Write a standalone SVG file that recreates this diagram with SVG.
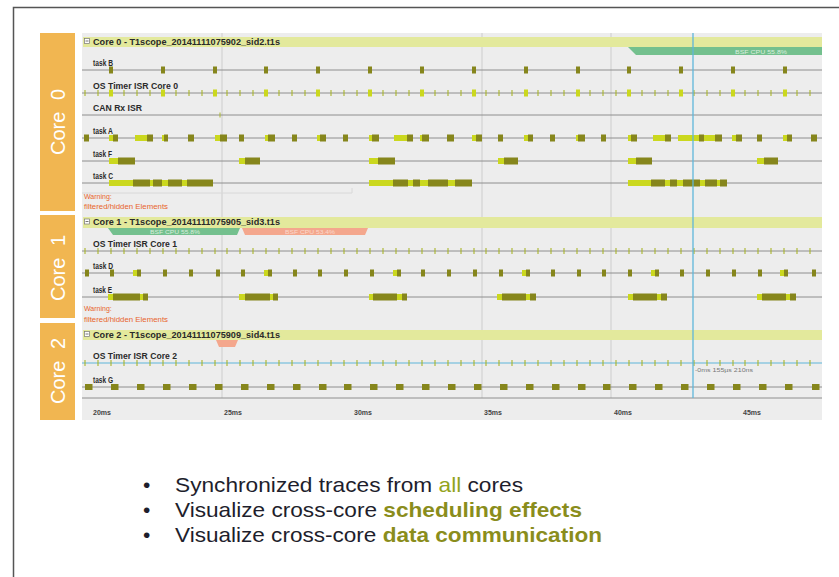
<svg xmlns="http://www.w3.org/2000/svg" width="839" height="577" viewBox="0 0 839 577">
<style>
.d{fill:#86861c}
.b{fill:#cbd81e}
.ln{stroke:#8e8e8e;stroke-width:1;fill:none}
.tk{stroke:#a9b52a;stroke-width:1.1;fill:none}
.lbl{font-family:"Liberation Sans",Arial,sans-serif;font-size:9px;font-weight:bold;fill:#2a2a2a}
.hdr{font-family:"Liberation Sans",Arial,sans-serif;font-size:8.5px;font-weight:bold;fill:#2a2a2a}
.warn{font-family:"Liberation Sans",Arial,sans-serif;font-size:7px;fill:#e8642c}
.tm{font-family:"Liberation Sans",Arial,sans-serif;font-size:7px;font-weight:bold;fill:#444}
.core{font-family:"Liberation Sans",Arial,sans-serif;font-size:20px;fill:#ffffff;word-spacing:6px}
.bar{fill:#e3e99c}
.bul{font-family:"Liberation Sans",Arial,sans-serif;font-size:21px;fill:#1e1e2c}
</style>
<defs>
<path id="ticks" d="M85 0v6M98 0v6M111 0v6M124 0v6M137 0v6M150 0v6M163 0v6M176 0v6M189 0v6M202 0v6M215 0v6M227 0v6M240 0v6M253 0v6M266 0v6M279 0v6M292 0v6M305 0v6M318 0v6M331 0v6M344 0v6M357 0v6M370 0v6M383 0v6M396 0v6M409 0v6M422 0v6M435 0v6M448 0v6M461 0v6M474 0v6M486 0v6M499 0v6M512 0v6M525 0v6M538 0v6M551 0v6M564 0v6M577 0v6M590 0v6M603 0v6M616 0v6M629 0v6M642 0v6M655 0v6M668 0v6M681 0v6M694 0v6M707 0v6M720 0v6M733 0v6M745 0v6M758 0v6M771 0v6M784 0v6M797 0v6M810 0v6"/>
</defs>
<rect width="839" height="577" fill="#ffffff"/>
<path d="M13.5 577V7.5H839" stroke="#555" stroke-width="1.5" fill="none"/>

<g id="core-labels">
<rect x="40" y="33" width="35" height="178" fill="#f1b651"/>
<rect x="40" y="215" width="35" height="103" fill="#f1b651"/>
<rect x="40" y="323" width="35" height="97" fill="#f1b651"/>
<text class="core" transform="translate(58,122) rotate(-90)" text-anchor="middle" y="7">Core 0</text>
<text class="core" transform="translate(58,268) rotate(-90)" text-anchor="middle" y="7">Core 1</text>
<text class="core" transform="translate(58,371) rotate(-90)" text-anchor="middle" y="7">Core 2</text>
</g>

<g id="panel">
<rect x="82" y="33" width="740" height="387" fill="#ededed"/>
<path d="M222 33V398M482 33V398M611 33V398" stroke="#cdcdcd" stroke-width="1"/>
<path d="M82 398H822" class="ln"/>
<path d="M82 193H352V188" stroke="#d8d8d8" fill="none"/>
<text class="tm" x="93" y="415">20ms</text>
<text class="tm" x="224" y="415">25ms</text>
<text class="tm" x="354" y="415">30ms</text>
<text class="tm" x="484" y="415">35ms</text>
<text class="tm" x="614" y="415">40ms</text>
<text class="tm" x="743" y="415">45ms</text>
</g>

<g id="core0">
<rect class="bar" x="83" y="37" width="739" height="10"/>
<rect x="84.5" y="38.5" width="5" height="5" fill="#fff" stroke="#777" stroke-width="0.7"/>
<path d="M85.5 41H88.5" stroke="#555" stroke-width="0.8"/>
<text class="hdr" x="93" y="45" textLength="187" lengthAdjust="spacingAndGlyphs">Core 0 - T1scope_20141111075902_sid2.t1s</text>
<path d="M628 47H822V55H636Z" fill="#74c08e"/>
<text x="735" y="53.5" font-family="Liberation Sans,Arial,sans-serif" font-size="5.5" fill="#d8eedd" textLength="52" lengthAdjust="spacingAndGlyphs">BSF CPU 55.8%</text>

<g id="taskB">
<text class="lbl" x="93" y="66" textLength="20" lengthAdjust="spacingAndGlyphs">task B</text>
<path class="ln" d="M82 70H822"/>
<g class="d"><rect x="109" y="66.5" width="4" height="7"/><rect x="161" y="66.5" width="4" height="7"/><rect x="213" y="66.5" width="4" height="7"/><rect x="264" y="66.5" width="4" height="7"/><rect x="316" y="66.5" width="4" height="7"/><rect x="368" y="66.5" width="4" height="7"/><rect x="420" y="66.5" width="4" height="7"/><rect x="472" y="66.5" width="4" height="7"/><rect x="524" y="66.5" width="4" height="7"/><rect x="576" y="66.5" width="4" height="7"/><rect x="627" y="66.5" width="4" height="7"/><rect x="679" y="66.5" width="4" height="7"/><rect x="731" y="66.5" width="4" height="7"/><rect x="783" y="66.5" width="4" height="7"/></g>
</g>

<g id="osTimer0">
<text class="lbl" x="93" y="89" textLength="85" lengthAdjust="spacingAndGlyphs">OS Timer ISR Core 0</text>
<path class="ln" d="M82 93H822"/>
<use href="#ticks" class="tk" transform="translate(0,90)"/>
<g class="b"><rect x="109" y="89.5" width="4" height="7"/><rect x="161" y="89.5" width="4" height="7"/><rect x="213" y="89.5" width="4" height="7"/><rect x="264" y="89.5" width="4" height="7"/><rect x="316" y="89.5" width="4" height="7"/><rect x="368" y="89.5" width="4" height="7"/><rect x="420" y="89.5" width="4" height="7"/><rect x="472" y="89.5" width="4" height="7"/><rect x="524" y="89.5" width="4" height="7"/><rect x="576" y="89.5" width="4" height="7"/><rect x="627" y="89.5" width="4" height="7"/><rect x="679" y="89.5" width="4" height="7"/><rect x="731" y="89.5" width="4" height="7"/><rect x="783" y="89.5" width="4" height="7"/></g>
</g>

<g id="canRx">
<text class="lbl" x="93" y="111" textLength="49" lengthAdjust="spacingAndGlyphs">CAN Rx ISR</text>
<path class="ln" d="M82 115H822"/>
<path d="M220 112.5v5" stroke="#aab52c"/>
</g>

<g id="taskA">
<text class="lbl" x="93" y="134" textLength="20" lengthAdjust="spacingAndGlyphs">task A</text>
<path class="ln" d="M82 138H822"/>
<g class="b"><rect x="109" y="135" width="4" height="6"/><rect x="135" y="135" width="12" height="6"/><rect x="162" y="135" width="2" height="6"/><rect x="215" y="135" width="5" height="6"/><rect x="265" y="135" width="3" height="6"/><rect x="317" y="135" width="3" height="6"/><rect x="369" y="135" width="3" height="6"/><rect x="394" y="135" width="13" height="6"/><rect x="420" y="135" width="2" height="6"/><rect x="472" y="135" width="4" height="6"/><rect x="524" y="135" width="4" height="6"/><rect x="576" y="135" width="2" height="6"/><rect x="628" y="135" width="3" height="6"/><rect x="653" y="135" width="12" height="6"/><rect x="678" y="135" width="21" height="6"/><rect x="704" y="135" width="11" height="6"/><rect x="732" y="135" width="4" height="6"/><rect x="783" y="135" width="4" height="6"/></g>
<g class="d"><rect x="84" y="134.5" width="5" height="7"/><rect x="113" y="134.5" width="5" height="7"/><rect x="147" y="134.5" width="6" height="7"/><rect x="164" y="134.5" width="4" height="7"/><rect x="188" y="134.5" width="6" height="7"/><rect x="220" y="134.5" width="7" height="7"/><rect x="239" y="134.5" width="5" height="7"/><rect x="268" y="134.5" width="7" height="7"/><rect x="292" y="134.5" width="5" height="7"/><rect x="320" y="134.5" width="6" height="7"/><rect x="343" y="134.5" width="5" height="7"/><rect x="372" y="134.5" width="7" height="7"/><rect x="407" y="134.5" width="6" height="7"/><rect x="422" y="134.5" width="7" height="7"/><rect x="447" y="134.5" width="7" height="7"/><rect x="476" y="134.5" width="6" height="7"/><rect x="498" y="134.5" width="5" height="7"/><rect x="528" y="134.5" width="5" height="7"/><rect x="550" y="134.5" width="5" height="7"/><rect x="578" y="134.5" width="7" height="7"/><rect x="601" y="134.5" width="5" height="7"/><rect x="631" y="134.5" width="6" height="7"/><rect x="665" y="134.5" width="6" height="7"/><rect x="699" y="134.5" width="5" height="7"/><rect x="715" y="134.5" width="7" height="7"/><rect x="736" y="134.5" width="6" height="7"/><rect x="757" y="134.5" width="5" height="7"/><rect x="787" y="134.5" width="5" height="7"/><rect x="811" y="134.5" width="6" height="7"/></g>
</g>

<g id="taskF">
<text class="lbl" x="93" y="157" textLength="19" lengthAdjust="spacingAndGlyphs">task F</text>
<path class="ln" d="M82 161H822"/>
<g class="b"><rect x="109" y="158" width="9" height="6"/><rect x="239" y="158" width="6" height="6"/><rect x="369" y="158" width="9" height="6"/><rect x="498" y="158" width="6" height="6"/><rect x="628" y="158" width="8" height="6"/><rect x="757" y="158" width="7" height="6"/></g>
<g class="d"><rect x="118" y="157.5" width="17" height="7"/><rect x="245" y="157.5" width="15" height="7"/><rect x="378" y="157.5" width="17" height="7"/><rect x="504" y="157.5" width="14" height="7"/><rect x="636" y="157.5" width="16" height="7"/><rect x="764" y="157.5" width="14" height="7"/></g>
</g>

<g id="taskC">
<text class="lbl" x="93" y="179" textLength="20" lengthAdjust="spacingAndGlyphs">task C</text>
<path class="ln" d="M82 183H822"/>
<g class="b"><rect x="109" y="180" width="24" height="6"/><rect x="150" y="180" width="3" height="6"/><rect x="162" y="180" width="6" height="6"/><rect x="182" y="180" width="5" height="6"/><rect x="369" y="180" width="24" height="6"/><rect x="408" y="180" width="5" height="6"/><rect x="420" y="180" width="8" height="6"/><rect x="448" y="180" width="7" height="6"/><rect x="628" y="180" width="23" height="6"/><rect x="665" y="180" width="5" height="6"/><rect x="677" y="180" width="6" height="6"/><rect x="700" y="180" width="5" height="6"/><rect x="717" y="180" width="3" height="6"/></g>
<g class="d"><rect x="133" y="179.5" width="17" height="7"/><rect x="153" y="179.5" width="9" height="7"/><rect x="168" y="179.5" width="14" height="7"/><rect x="187" y="179.5" width="26" height="7"/><rect x="393" y="179.5" width="15" height="7"/><rect x="413" y="179.5" width="7" height="7"/><rect x="428" y="179.5" width="20" height="7"/><rect x="455" y="179.5" width="17" height="7"/><rect x="651" y="179.5" width="14" height="7"/><rect x="670" y="179.5" width="7" height="7"/><rect x="683" y="179.5" width="17" height="7"/><rect x="705" y="179.5" width="12" height="7"/><rect x="720" y="179.5" width="7" height="7"/></g>
</g>
<text class="warn" x="84" y="199">Warning:</text>
<text class="warn" x="84" y="209" textLength="84" lengthAdjust="spacingAndGlyphs">filtered/hidden Elements</text>
</g>

<g id="core1">
<rect class="bar" x="83" y="217" width="739" height="11"/>
<rect x="84.5" y="219" width="5" height="5" fill="#fff" stroke="#777" stroke-width="0.7"/>
<path d="M85.5 221.5H88.5" stroke="#555" stroke-width="0.8"/>
<text class="hdr" x="93" y="225" textLength="187" lengthAdjust="spacingAndGlyphs">Core 1 - T1scope_20141111075905_sid3.t1s</text>
<path d="M108 228H240L237 235H113Z" fill="#74c08e"/>
<path d="M242 228H368L365 235H245Z" fill="#f4a78d"/>
<text x="150" y="233.5" font-family="Liberation Sans,Arial,sans-serif" font-size="5.5" fill="#d8eedd" textLength="50" lengthAdjust="spacingAndGlyphs">BSF CPU 55.8%</text>
<text x="285" y="233.5" font-family="Liberation Sans,Arial,sans-serif" font-size="5.5" fill="#fbd9cc" textLength="50" lengthAdjust="spacingAndGlyphs">BSF CPU 53.4%</text>

<g id="osTimer1">
<text class="lbl" x="93" y="247" textLength="84" lengthAdjust="spacingAndGlyphs">OS Timer ISR Core 1</text>
<path class="ln" d="M82 251H822"/>
<use href="#ticks" class="tk" transform="translate(0,248)"/>
</g>

<g id="taskD">
<text class="lbl" x="93" y="269" textLength="20" lengthAdjust="spacingAndGlyphs">task D</text>
<path class="ln" d="M82 273H822"/>
<g class="b"><rect x="133" y="270" width="4" height="6"/><rect x="264" y="270" width="4" height="6"/><rect x="393" y="270" width="4" height="6"/><rect x="522" y="270" width="4" height="6"/><rect x="651" y="270" width="4" height="6"/><rect x="780" y="270" width="4" height="6"/></g>
<g class="d"><rect x="85" y="269.5" width="4" height="7"/><rect x="110" y="269.5" width="4" height="7"/><rect x="137" y="269.5" width="4" height="7"/><rect x="163" y="269.5" width="4" height="7"/><rect x="189" y="269.5" width="4" height="7"/><rect x="216" y="269.5" width="4" height="7"/><rect x="241" y="269.5" width="4" height="7"/><rect x="268" y="269.5" width="4" height="7"/><rect x="293" y="269.5" width="4" height="7"/><rect x="318" y="269.5" width="4" height="7"/><rect x="344" y="269.5" width="4" height="7"/><rect x="370" y="269.5" width="4" height="7"/><rect x="397" y="269.5" width="4" height="7"/><rect x="421" y="269.5" width="4" height="7"/><rect x="447" y="269.5" width="4" height="7"/><rect x="473" y="269.5" width="4" height="7"/><rect x="499" y="269.5" width="4" height="7"/><rect x="526" y="269.5" width="4" height="7"/><rect x="551" y="269.5" width="4" height="7"/><rect x="577" y="269.5" width="4" height="7"/><rect x="602" y="269.5" width="4" height="7"/><rect x="628" y="269.5" width="4" height="7"/><rect x="655" y="269.5" width="4" height="7"/><rect x="680" y="269.5" width="4" height="7"/><rect x="706" y="269.5" width="4" height="7"/><rect x="732" y="269.5" width="4" height="7"/><rect x="758" y="269.5" width="4" height="7"/><rect x="784" y="269.5" width="4" height="7"/><rect x="812" y="269.5" width="4" height="7"/></g>
</g>

<g id="taskE">
<text class="lbl" x="93" y="293" textLength="19" lengthAdjust="spacingAndGlyphs">task E</text>
<path class="ln" d="M82 297H822"/>
<g class="b"><rect x="108" y="294" width="5" height="6"/><rect x="140" y="294" width="3" height="6"/><rect x="239" y="294" width="6" height="6"/><rect x="270" y="294" width="3" height="6"/><rect x="369" y="294" width="4" height="6"/><rect x="397" y="294" width="5" height="6"/><rect x="497" y="294" width="5" height="6"/><rect x="526" y="294" width="4" height="6"/><rect x="628" y="294" width="5" height="6"/><rect x="657" y="294" width="4" height="6"/><rect x="757" y="294" width="5" height="6"/><rect x="786" y="294" width="4" height="6"/></g>
<g class="d"><rect x="113" y="293.5" width="27" height="7"/><rect x="143" y="293.5" width="5" height="7"/><rect x="245" y="293.5" width="25" height="7"/><rect x="273" y="293.5" width="5" height="7"/><rect x="373" y="293.5" width="24" height="7"/><rect x="402" y="293.5" width="5" height="7"/><rect x="502" y="293.5" width="24" height="7"/><rect x="530" y="293.5" width="6" height="7"/><rect x="633" y="293.5" width="24" height="7"/><rect x="661" y="293.5" width="6" height="7"/><rect x="762" y="293.5" width="24" height="7"/><rect x="790" y="293.5" width="6" height="7"/></g>
</g>
<text class="warn" x="84" y="311">Warning:</text>
<text class="warn" x="84" y="322" textLength="84" lengthAdjust="spacingAndGlyphs">filtered/hidden Elements</text>
</g>

<g id="core2">
<rect class="bar" x="83" y="330" width="739" height="10"/>
<rect x="84.5" y="331.5" width="5" height="5" fill="#fff" stroke="#777" stroke-width="0.7"/>
<path d="M85.5 334H88.5" stroke="#555" stroke-width="0.8"/>
<text class="hdr" x="93" y="338" textLength="187" lengthAdjust="spacingAndGlyphs">Core 2 - T1scope_20141111075909_sid4.t1s</text>
<path d="M216 340H238L235 347H219Z" fill="#f4a78d"/>

<g id="osTimer2">
<text class="lbl" x="93" y="359" textLength="84" lengthAdjust="spacingAndGlyphs">OS Timer ISR Core 2</text>
<path d="M82 363H822" stroke="#5fb6da" stroke-width="1.2"/>
<use href="#ticks" class="tk" transform="translate(0,360)"/>
<text x="695" y="372" font-family="Liberation Sans,Arial,sans-serif" font-size="5.5" fill="#777" textLength="58" lengthAdjust="spacingAndGlyphs">-0ms 155µs 210ns</text>
</g>

<g id="taskG">
<text class="lbl" x="93" y="383" textLength="20" lengthAdjust="spacingAndGlyphs">task G</text>
<path class="ln" d="M82 387H822"/>
<g class="d"><rect x="85" y="384" width="7.5" height="6"/><rect x="111" y="384" width="7.5" height="6"/><rect x="137" y="384" width="7.5" height="6"/><rect x="163" y="384" width="7.5" height="6"/><rect x="189" y="384" width="7.5" height="6"/><rect x="215" y="384" width="7.5" height="6"/><rect x="241" y="384" width="7.5" height="6"/><rect x="267" y="384" width="7.5" height="6"/><rect x="293" y="384" width="7.5" height="6"/><rect x="319" y="384" width="7.5" height="6"/><rect x="344" y="384" width="7.5" height="6"/><rect x="370" y="384" width="7.5" height="6"/><rect x="396" y="384" width="7.5" height="6"/><rect x="422" y="384" width="7.5" height="6"/><rect x="448" y="384" width="7.5" height="6"/><rect x="474" y="384" width="7.5" height="6"/><rect x="500" y="384" width="7.5" height="6"/><rect x="526" y="384" width="7.5" height="6"/><rect x="552" y="384" width="7.5" height="6"/><rect x="578" y="384" width="7.5" height="6"/><rect x="603" y="384" width="7.5" height="6"/><rect x="629" y="384" width="7.5" height="6"/><rect x="655" y="384" width="7.5" height="6"/><rect x="681" y="384" width="7.5" height="6"/><rect x="707" y="384" width="7.5" height="6"/><rect x="733" y="384" width="7.5" height="6"/><rect x="759" y="384" width="7.5" height="6"/><rect x="785" y="384" width="7.5" height="6"/><rect x="812" y="384" width="7.5" height="6"/></g>
</g>
</g>

<g id="connectors">
<path d="M693 33V398" stroke="#5fb6da" stroke-width="1.3"/>
</g>

<g id="bullets">
<text class="bul" x="143" y="492">•</text>
<text class="bul" x="143" y="517">•</text>
<text class="bul" x="143" y="542">•</text>
<text class="bul" x="175" y="492" textLength="348" lengthAdjust="spacingAndGlyphs">Synchronized traces from <tspan fill="#93a31c">all</tspan> cores</text>
<text class="bul" x="175" y="517" textLength="407" lengthAdjust="spacingAndGlyphs">Visualize cross-core <tspan fill="#8a8d1c" font-weight="bold">scheduling effects</tspan></text>
<text class="bul" x="175" y="542" textLength="427" lengthAdjust="spacingAndGlyphs">Visualize cross-core <tspan fill="#8a8d1c" font-weight="bold">data communication</tspan></text>
</g>
</svg>
